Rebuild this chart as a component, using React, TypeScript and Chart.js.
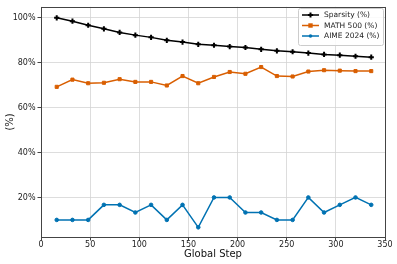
import React, { useEffect, useRef } from "react";
import { Chart, registerables } from "chart.js";

Chart.register(...registerables);

const steps = [16, 32, 48, 64, 80, 96, 112, 128, 144, 160, 176, 192, 208, 224, 240, 256, 272, 288, 304, 320, 336];
const sparsity = [99.9, 98.4, 96.6, 95.0, 93.4, 92.2, 91.2, 89.9, 89.1, 88.1, 87.7, 87.1, 86.7, 85.9, 85.2, 84.8, 84.2, 83.6, 83.3, 82.8, 82.4];
const math500 = [69.2, 72.4, 70.8, 71.0, 72.6, 71.4, 71.4, 69.8, 74.0, 70.8, 73.6, 75.8, 75.0, 78.0, 74.0, 73.8, 76.0, 76.6, 76.4, 76.2, 76.2];
const aime2024 = [10, 10, 10, 16.7, 16.7, 13.3, 16.7, 10, 16.7, 6.7, 20, 20, 13.3, 13.3, 10, 10, 20, 13.3, 16.7, 20, 16.7];
const seriesLabels = ["Sparsity (%)", "MATH 500 (%)", "AIME 2024 (%)"];
const yTicks = [20, 40, 60, 80, 100];
const xLabel = "Global Step";
const yLabel = "(%)";

const COLORS = ["#000000", "#d95f02", "#0072b2"];
const STYLES = ["cross", "rect", "circle"];
const FONT = "'DejaVu Sans', sans-serif";

function marker(ctx: CanvasRenderingContext2D, style: string, r: number, x: number, y: number, color: string) {
  ctx.save();
  ctx.fillStyle = color;
  ctx.strokeStyle = color;
  if (style === "cross") {
    ctx.lineWidth = 2;
    ctx.beginPath();
    ctx.moveTo(x - r, y);
    ctx.lineTo(x + r, y);
    ctx.moveTo(x, y - r);
    ctx.lineTo(x, y + r);
    ctx.stroke();
  } else if (style === "rect") {
    ctx.fillRect(x - r, y - r, 2 * r, 2 * r);
  } else {
    ctx.beginPath();
    ctx.arc(x, y, r, 0, Math.PI * 2);
    ctx.fill();
  }
  ctx.restore();
}

const framePlugin = {
  id: "frame",
  afterDraw(chart: any) {
    const { ctx, chartArea: a } = chart;
    ctx.save();
    ctx.strokeStyle = "#444444";
    ctx.lineWidth = 1;
    ctx.strokeRect(Math.round(a.left) + 0.5, Math.round(a.top) + 0.5, Math.round(a.right - a.left), Math.round(a.bottom - a.top));
    // legend
    const bx = 298.5, by = 8.5, bw = 85, bh = 37;
    ctx.fillStyle = "rgba(255,255,255,0.85)";
    ctx.strokeStyle = "#cccccc";
    ctx.lineWidth = 1;
    ctx.beginPath();
    if ((ctx as any).roundRect) (ctx as any).roundRect(bx, by, bw, bh, 2);
    else ctx.rect(bx, by, bw, bh);
    ctx.fill();
    ctx.stroke();
    ctx.font = `7.5px ${FONT}`;
    ctx.textBaseline = "middle";
    ctx.textAlign = "left";
    const rows = [15, 25.5, 36];
    chart.data.datasets.forEach((ds: any, i: number) => {
      const y = rows[i];
      ctx.strokeStyle = ds.borderColor;
      ctx.lineWidth = 1.5;
      ctx.beginPath();
      ctx.moveTo(302, y);
      ctx.lineTo(319, y);
      ctx.stroke();
      marker(ctx, ds.pointStyle, ds.pointRadius, 310.5, y, ds.borderColor);
      ctx.fillStyle = "#222222";
      ctx.fillText(ds.label, 324, y + 0.5);
    });
    ctx.restore();
  },
};

export default function App() {
  const ref = useRef<HTMLCanvasElement>(null);
  useEffect(() => {
    const canvas = ref.current!;
    const mk = (label: string, data: number[], i: number) => ({
      label,
      data: steps.map((s, j) => ({ x: s, y: data[j] })),
      borderColor: COLORS[i],
      backgroundColor: COLORS[i],
      borderWidth: 1.5,
      pointStyle: STYLES[i],
      pointRadius: i === 0 ? 2.6 : i === 1 ? 2.2 : 1.8,
      pointBorderWidth: i === 0 ? 2 : 1,
      pointBackgroundColor: COLORS[i],
      pointBorderColor: COLORS[i],
      tension: 0,
    });
    const chart = new Chart(canvas, {
      type: "line",
      data: {
        datasets: [mk(seriesLabels[0], sparsity, 0), mk(seriesLabels[1], math500, 1), mk(seriesLabels[2], aime2024, 2)],
      },
      options: {
        animation: false,
        responsive: false,
        devicePixelRatio: 1,
        layout: { padding: { top: 4, right: 12, left: 4, bottom: 4 } },
        plugins: { legend: { display: false }, tooltip: { enabled: false } },
        scales: {
          x: {
            type: "linear",
            min: 0,
            max: 350,
            ticks: { stepSize: 50, color: "#222", font: { family: FONT, size: 8 }, padding: 0, maxRotation: 0 },
            grid: { color: "#d4d4d4", lineWidth: 0.8, tickLength: 3.5, tickColor: "#444", tickWidth: 1 },
            border: { display: false },
            title: { display: true, text: xLabel, color: "#111", font: { family: FONT, size: 10 }, padding: { top: 0, bottom: 0 } },
            afterFit: (s: any) => { s.height = 23; },
          },
          y: {
            min: 2.4,
            max: 104.8,
            afterBuildTicks: (s: any) => { s.ticks = yTicks.map((v) => ({ value: v })); },
            ticks: { color: "#222", font: { family: FONT, size: 8 }, padding: 2, callback: (v: any) => `${v}%` },
            grid: { color: "#d4d4d4", lineWidth: 0.8, tickLength: 3.5, tickColor: "#444", tickWidth: 1 },
            border: { display: false },
            title: { display: true, text: yLabel, color: "#111", font: { family: FONT, size: 10 }, padding: { top: 0, bottom: 6 } },
            afterFit: (s: any) => { s.width = 37; },
          },
        },
      },
      plugins: [framePlugin],
    });
    return () => chart.destroy();
  }, []);
  return (
    <div style={{ position: "fixed", left: 0, top: 0, width: 397, height: 264, background: "#fff" }}>
      <canvas ref={ref} width={397} height={264} style={{ width: 397, height: 264 }} />
    </div>
  );
}
